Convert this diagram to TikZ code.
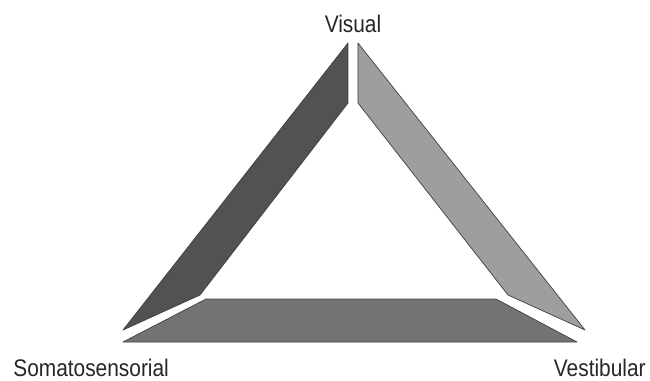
\documentclass[tikz,border=0pt]{standalone}
\usepackage{fontspec}
\setmainfont{Liberation Sans}
\usetikzlibrary{positioning}

\begin{document}
\begin{tikzpicture}[
    x=0.5pt, y=-0.5pt,
    font=\fontsize{12}{14}\selectfont,
    bar/.style={fill=#1, draw=black!75, line width=0.35pt, line join=round},
    label/.style={inner sep=0pt, text=black!85, xscale=0.87},
]
    \useasboundingbox (0,0) rectangle (650,381);

    % Visual (left bar)
    \filldraw[bar=black!68] (348,43) -- (348,103) -- (200,295) -- (123,330) -- cycle;

    % Visual (right bar)
    \filldraw[bar=black!38] (358,43) -- (585,330) -- (508,295) -- (358,103) -- cycle;

    % Bottom bar
    \filldraw[bar=black!55] (123,342) -- (577,342) -- (496,299) -- (206,299) -- cycle;

    % Labels
    \node[label, anchor=base] (visual) at (353,32) {Visual};
    \node[label, anchor=base west] (soma) at (13,376) {Somatosensorial};
    \node[label, anchor=base east] (vest) at (646,376) {Vestibular};
\end{tikzpicture}
\end{document}
